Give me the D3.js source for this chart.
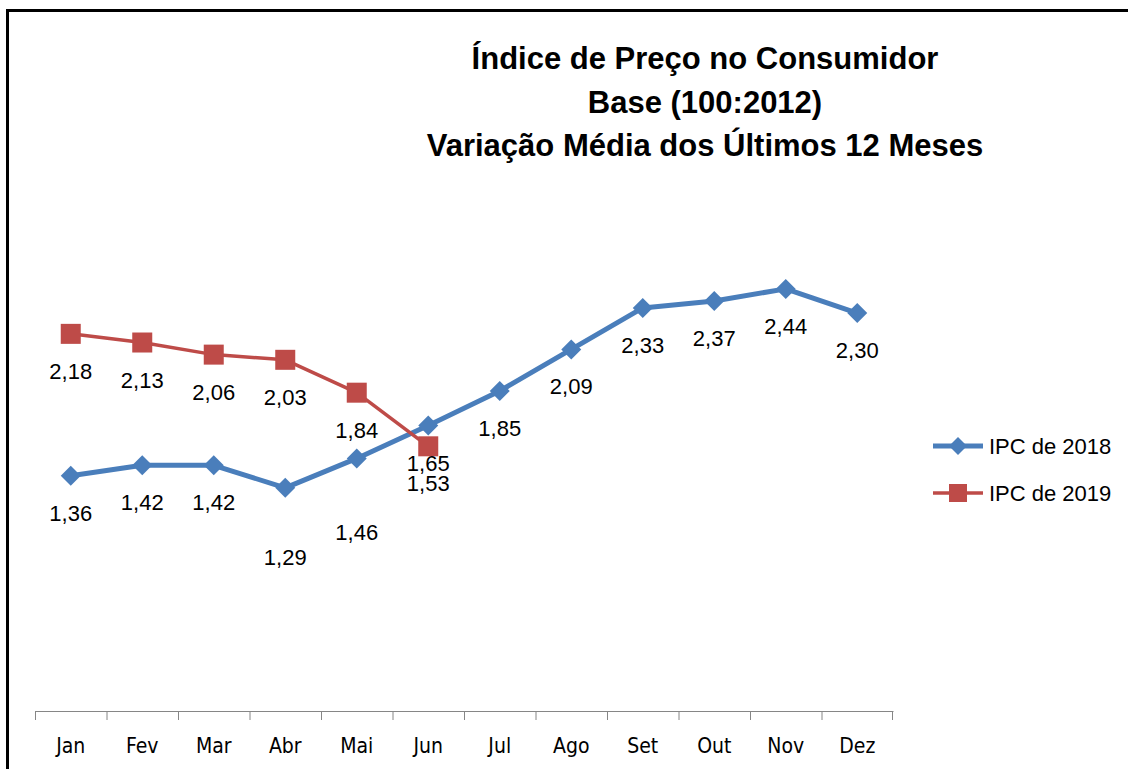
<!DOCTYPE html>
<html>
<head>
<meta charset="utf-8">
<script src="https://cdn.jsdelivr.net/npm/d3@7"></script>
<style>
  body { margin: 0; background: #fff; }
  svg { display: block; }
</style>
</head>
<body>
<div id="chart"></div>
<script>
// IPC chart: two series of monthly values, labels under the markers

const months = ["Jan", "Fev", "Mar", "Abr", "Mai", "Jun", "Jul", "Ago", "Set", "Out", "Nov", "Dez"];
const ipc2018 = [1.36, 1.42, 1.42, 1.29, 1.46, 1.65, 1.85, 2.09, 2.33, 2.37, 2.44, 2.30];
const ipc2019 = [2.18, 2.13, 2.06, 2.03, 1.84, 1.53];
const seriesNames = ["IPC de 2018", "IPC de 2019"];
const titleLines = ["Índice de Preço no Consumidor", "Base (100:2012)", "Variação  Média dos Últimos 12 Meses"];

const W = 1128, H = 769;
const blue = "#4a7ebb", red = "#be4b48";
const fmt = v => v.toFixed(2).replace(".", ",");

const svg = d3.select("#chart").append("svg")
  .attr("width", W)
  .attr("height", H);

// outer frame (right and bottom edges fall outside the picture)
svg.append("rect")
  .attr("x", 7.5).attr("y", 10.5)
  .attr("width", W + 20).attr("height", H + 20)
  .attr("fill", "none")
  .attr("stroke", "#000")
  .attr("stroke-width", 3);

// title
svg.append("g").selectAll("text")
  .data(titleLines)
  .enter().append("text")
  .attr("x", 705)
  .attr("y", (d, i) => 69 + i * 43.5)
  .attr("text-anchor", "middle")
  .style("font-family", "'Liberation Sans', Arial, sans-serif")
  .style("font-weight", "bold")
  .style("font-size", "31px")
  .style("fill", "#000")
  .text(d => d);

// scales
const x = d3.scaleBand().domain(months).range([35, 893]);
const y = d3.scaleLinear().domain([0, 3]).range([711, 192]);
const cx = m => x(m) + x.bandwidth() / 2;

// category axis
const axis = svg.append("g")
  .attr("transform", "translate(0,711)")
  .call(d3.axisBottom(x).tickSize(0).tickPadding(0));
axis.select(".domain").attr("stroke", "#868686").attr("stroke-width", 1);
axis.selectAll(".tick text")
  .attr("y", 34)
  .attr("dy", "0.36em")
  .style("font-family", "'DejaVu Sans Condensed', 'Liberation Sans Narrow', 'Liberation Sans', sans-serif")
  .style("font-size", "21px")
  .style("fill", "#000");
axis.selectAll(".boundary")
  .data(months.concat(["end"]))
  .enter().append("line")
  .attr("class", "boundary")
  .attr("x1", (d, i) => i < months.length ? x(d) + 0.5 : x.range()[1] - 0.5)
  .attr("x2", (d, i) => i < months.length ? x(d) + 0.5 : x.range()[1] - 0.5)
  .attr("y1", 0).attr("y2", 9)
  .attr("stroke", "#868686");

const line = d3.line()
  .x(d => cx(d.m))
  .y(d => y(d.v));

const s2018 = ipc2018.map((v, i) => ({ m: months[i], v }));
const s2019 = ipc2019.map((v, i) => ({ m: months[i], v }));

const diamond = r => `M0,${-r}L${r},0L0,${r}L${-r},0Z`;

// series lines
svg.append("path").datum(s2018)
  .attr("d", line)
  .attr("fill", "none")
  .attr("stroke", blue)
  .attr("stroke-width", 5)
  .attr("stroke-linejoin", "round");

svg.append("path").datum(s2019)
  .attr("d", line)
  .attr("fill", "none")
  .attr("stroke", red)
  .attr("stroke-width", 3.5)
  .attr("stroke-linejoin", "round");

// markers
svg.selectAll(".dia")
  .data(s2018)
  .enter().append("path")
  .attr("class", "dia")
  .attr("transform", d => `translate(${cx(d.m)},${y(d.v)})`)
  .attr("d", diamond(10))
  .attr("fill", blue);

svg.selectAll(".sq")
  .data(s2019)
  .enter().append("rect")
  .attr("class", "sq")
  .attr("x", d => cx(d.m) - 10)
  .attr("y", d => y(d.v) - 10)
  .attr("width", 20)
  .attr("height", 20)
  .attr("fill", red);

// data labels below the markers; two of the 2018 labels were pushed further down
const labelFont = sel => sel
  .attr("text-anchor", "middle")
  .style("font-family", "'Liberation Sans', Arial, sans-serif")
  .style("font-size", "22px")
  .style("fill", "#000");

const extraDrop = { Abr: 32, Mai: 37 };

svg.selectAll(".lab18")
  .data(s2018)
  .enter().append("text")
  .attr("class", "lab18")
  .attr("x", d => cx(d.m))
  .attr("y", d => y(d.v) + 45 + (extraDrop[d.m] || 0))
  .call(labelFont)
  .text(d => fmt(d.v));

svg.selectAll(".lab19")
  .data(s2019)
  .enter().append("text")
  .attr("class", "lab19")
  .attr("x", d => cx(d.m))
  .attr("y", d => y(d.v) + 45)
  .call(labelFont)
  .text(d => fmt(d.v));

// legend
const legend = svg.append("g").selectAll("g")
  .data(seriesNames)
  .enter().append("g")
  .attr("transform", (d, i) => `translate(933,${446 + i * 47})`);

legend.append("line")
  .attr("x1", 0).attr("x2", 50)
  .attr("stroke", (d, i) => i === 0 ? blue : red)
  .attr("stroke-width", (d, i) => i === 0 ? 5 : 3.5);

legend.filter((d, i) => i === 0).append("path")
  .attr("transform", "translate(25,0)")
  .attr("d", diamond(9))
  .attr("fill", blue);

legend.filter((d, i) => i === 1).append("rect")
  .attr("x", 16).attr("y", -9)
  .attr("width", 18).attr("height", 18)
  .attr("fill", red);

legend.append("text")
  .attr("x", 56)
  .attr("y", 8)
  .style("font-family", "'Liberation Sans', Arial, sans-serif")
  .style("font-size", "22px")
  .style("fill", "#000")
  .text(d => d);
</script>
</body>
</html>
